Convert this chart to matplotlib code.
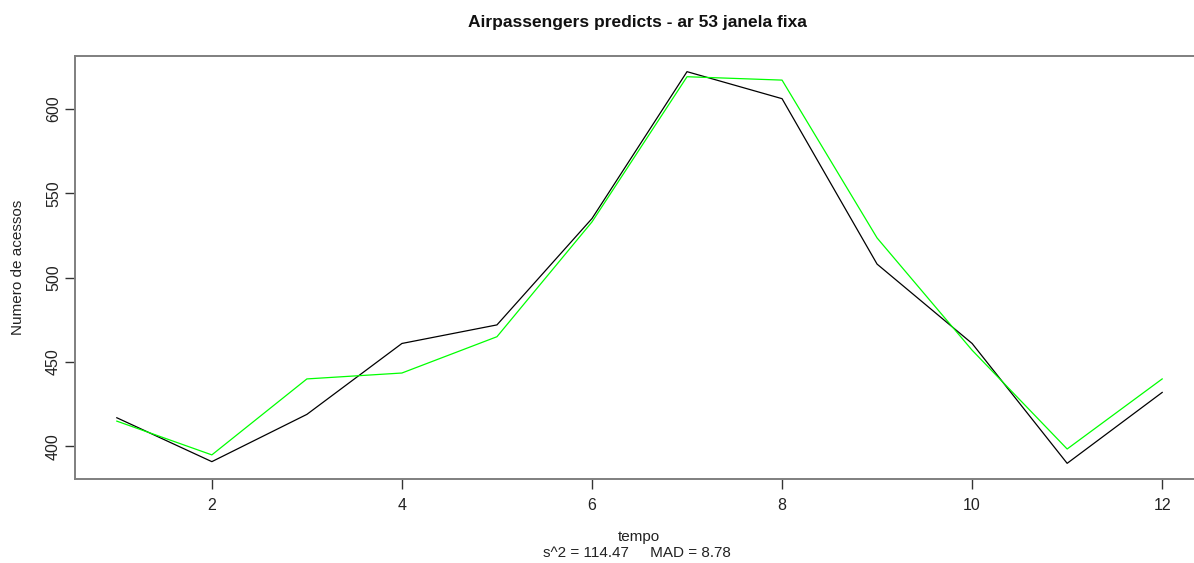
import matplotlib
matplotlib.use("Agg")
import matplotlib.pyplot as plt

plt.rcParams['font.family'] = ['Liberation Sans', 'DejaVu Sans']

tempo = list(range(1, 13))
observed = [417, 391, 419, 461, 472, 535, 622, 606, 508, 461, 390, 432]
predicted = [415, 395, 440, 443.5, 465, 533, 619, 617, 523.5, 457, 398.5, 440]
title = "Airpassengers predicts - ar 53 janela fixa"
subtitle = "s^2 = 114.47     MAD = 8.78"

fig = plt.figure(figsize=(11.94, 5.63), dpi=100)
ax = fig.add_axes([75 / 1194, 84 / 563, 1129 / 1194, 423 / 563])

ax.plot(tempo, observed, color="black", lw=0.9)
ax.plot(tempo, predicted, color="#00ff00", lw=0.9)

lo = min(min(observed), min(predicted))
hi = max(max(observed), max(predicted))
pad = (hi - lo) * 0.04
ax.set_ylim(lo - pad, hi + pad)
ax.set_xlim(1 - 11 * 0.04, 12 + 11 * 0.04)

ax.set_xticks([2, 4, 6, 8, 10, 12])
ax.set_yticks([400, 450, 500, 550, 600])
for s in ax.spines.values():
    s.set_color("#7f7f7f")
    s.set_linewidth(1.4)
ax.tick_params(length=7, width=1, color="#333333", labelsize=11.5,
               labelcolor="#222222")
ax.tick_params(axis="x", pad=7)
ax.tick_params(axis="y", pad=3)
for lab in ax.get_yticklabels():
    lab.set_rotation(90)
    lab.set_va("center")

fig.text(637 / 1194, 1 - 22 / 563, title, ha="center", va="center",
         fontsize=12.5, fontweight="bold", color="#111111")
fig.text(639 / 1194, 1 - 537 / 563, "tempo", ha="center", va="center",
         fontsize=11, color="#222222")
fig.text(637 / 1194, 1 - 553 / 563, subtitle, ha="center", va="center",
         fontsize=11, color="#222222")
fig.text(18 / 1194, 1 - 267 / 563, "Numero de acessos", ha="center",
         va="center", rotation=90, fontsize=11, color="#222222")

fig.savefig("out.png", dpi=100)
